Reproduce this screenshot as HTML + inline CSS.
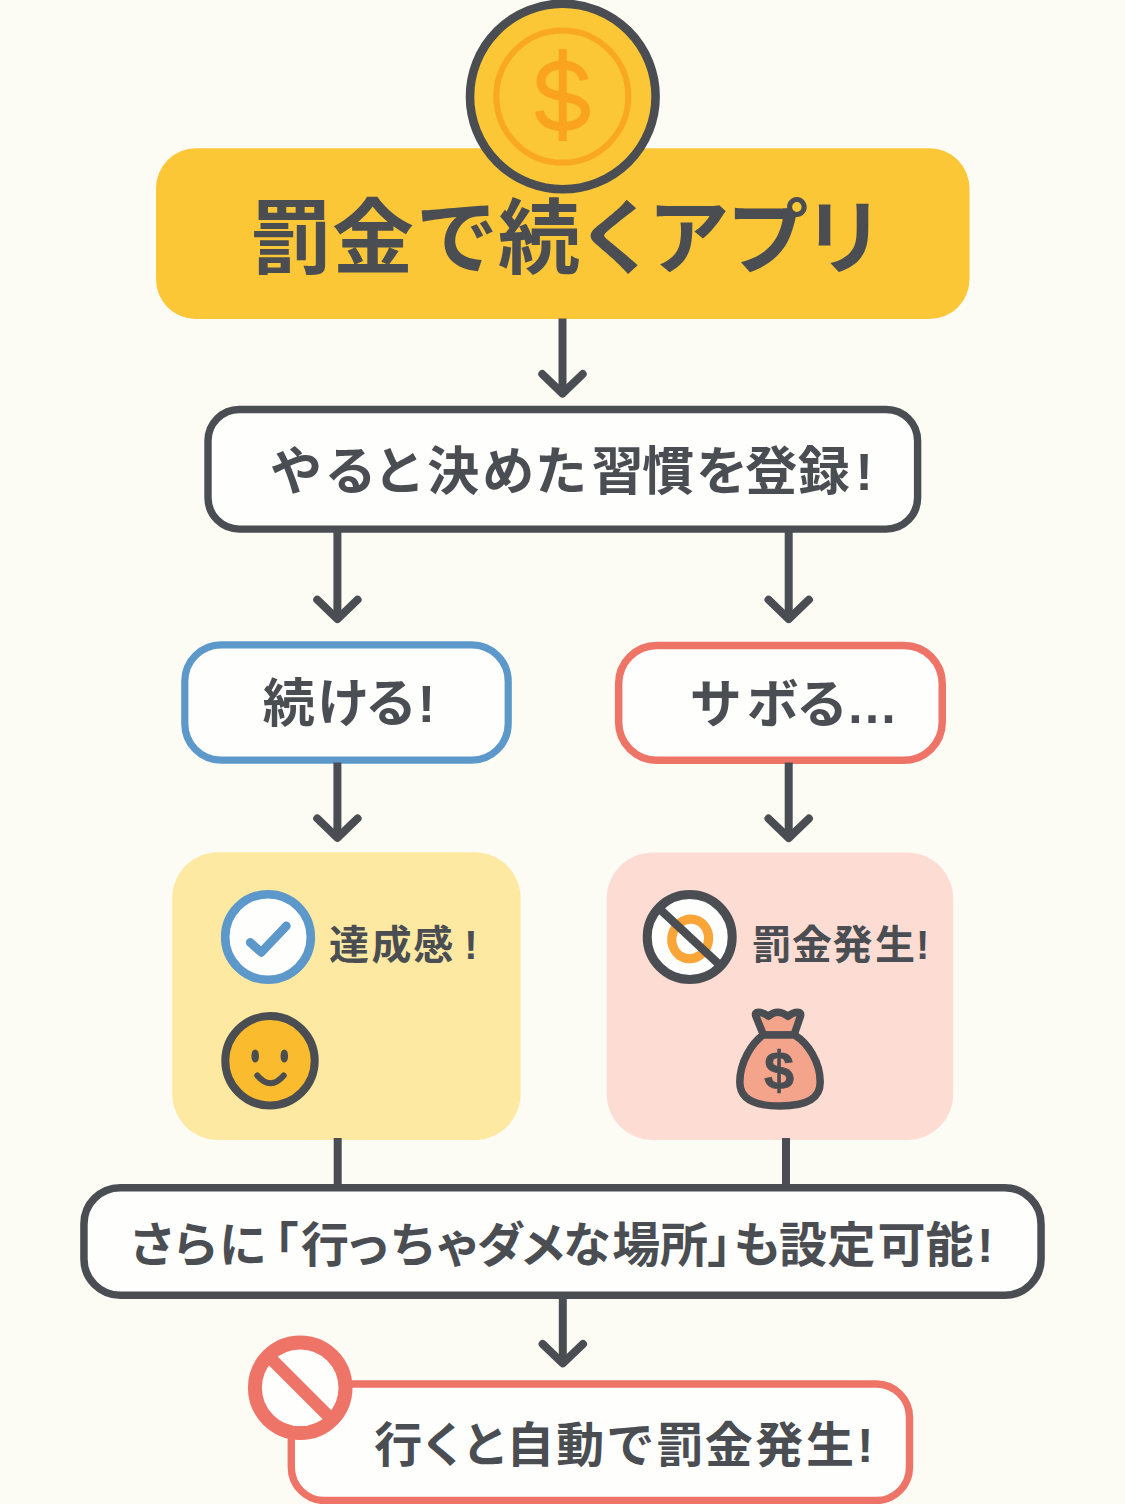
<!DOCTYPE html>
<html lang="ja"><head><meta charset="utf-8"><title>罰金で続くアプリ</title>
<style>
html,body{margin:0;padding:0}
body{width:1125px;height:1504px;position:relative;overflow:hidden;background:#fcfcf5;font-family:"Liberation Sans",sans-serif}
.b{position:absolute;box-sizing:border-box}
.b span{position:absolute;left:0;top:0;width:1px;height:1px;overflow:hidden;font-size:1px;color:transparent;opacity:0}
#banner{left:155px;top:148px;width:814px;height:171px}
#b2{left:204px;top:406px;width:717px;height:127px}
#bl{left:181px;top:641px;width:331px;height:123px}
#br{left:615px;top:642px;width:331px;height:122px}
#yl{left:172px;top:852px;width:348px;height:288px}
#pk{left:607px;top:852px;width:346px;height:288px}
#wide{left:80px;top:1184px;width:965px;height:115px}
#last{left:288px;top:1380px;width:625px;height:124px}
svg{position:absolute;left:0;top:0}
svg text{font-family:"Liberation Sans","Noto Sans CJK JP",sans-serif;font-weight:bold;fill:#4a4e53}
</style></head><body>
<div class="b" id="banner"><span>罰金で続くアプリ</span></div>
<div class="b" id="b2"><span>やると決めた習慣を登録!</span></div>
<div class="b" id="bl"><span>続ける!</span></div>
<div class="b" id="br"><span>サボる…</span></div>
<div class="b" id="yl"><span>達成感!</span></div>
<div class="b" id="pk"><span>罰金発生!</span></div>
<div class="b" id="wide"><span>さらに「行っちゃダメな場所」も設定可能!</span></div>
<div class="b" id="last"><span>行くと自動で罰金発生!</span></div>
<svg width="1125" height="1504" viewBox="0 0 1125 1504">
<rect x="156.00" y="148.20" width="813.50" height="170.90" rx="40.00" fill="#fcc737"/>
<rect x="208.00" y="409.50" width="709.60" height="119.60" rx="31.30" fill="#fefefd" stroke="#4a4e53" stroke-width="7.40"/>
<rect x="184.80" y="644.80" width="323.40" height="115.30" rx="36.40" fill="#fefefd" stroke="#5c98ca" stroke-width="7.20"/>
<rect x="618.65" y="645.45" width="323.60" height="114.80" rx="38.25" fill="#fefefd" stroke="#ee7468" stroke-width="7.50"/>
<rect x="172.20" y="852.20" width="348.40" height="287.80" rx="46.00" fill="#fde9a2"/>
<rect x="606.70" y="852.60" width="346.50" height="287.40" rx="46.00" fill="#fdddd3"/>
<rect x="83.95" y="1187.65" width="957.10" height="107.60" rx="36.25" fill="#fefefd" stroke="#4a4e53" stroke-width="7.50"/>
<rect x="291.30" y="1384.00" width="618.20" height="116.50" rx="33.30" fill="#fefefd" stroke="#ee7468" stroke-width="7.40"/>
<path d="M562.5 318.5V393.5" fill="none" stroke="#4a4e53" stroke-width="8.0"/><path d="M542.3 374.1L562.5 393.5L582.7 374.1" fill="none" stroke="#4a4e53" stroke-width="8.0" stroke-linecap="round" stroke-linejoin="round"/>
<path d="M337.4 530.0V619.1" fill="none" stroke="#4a4e53" stroke-width="8.0"/><path d="M317.2 599.7L337.4 619.1L357.6 599.7" fill="none" stroke="#4a4e53" stroke-width="8.0" stroke-linecap="round" stroke-linejoin="round"/>
<path d="M788.7 530.0V619.1" fill="none" stroke="#4a4e53" stroke-width="8.0"/><path d="M768.5 599.7L788.7 619.1L808.9 599.7" fill="none" stroke="#4a4e53" stroke-width="8.0" stroke-linecap="round" stroke-linejoin="round"/>
<path d="M337.4 762.5V837.8" fill="none" stroke="#4a4e53" stroke-width="8.0"/><path d="M317.2 818.4L337.4 837.8L357.6 818.4" fill="none" stroke="#4a4e53" stroke-width="8.0" stroke-linecap="round" stroke-linejoin="round"/>
<path d="M788.7 762.5V838.0" fill="none" stroke="#4a4e53" stroke-width="8.0"/><path d="M768.5 818.6L788.7 838.0L808.9 818.6" fill="none" stroke="#4a4e53" stroke-width="8.0" stroke-linecap="round" stroke-linejoin="round"/>
<path d="M562.8 1296.0V1363.4" fill="none" stroke="#4a4e53" stroke-width="8.0"/><path d="M542.6 1344.0L562.8 1363.4L583.0 1344.0" fill="none" stroke="#4a4e53" stroke-width="8.0" stroke-linecap="round" stroke-linejoin="round"/>
<path d="M337.7 1138V1187M786 1138V1187" stroke="#4a4e53" stroke-width="8" fill="none"/>
<g id="coin"><circle cx="562.8" cy="96.5" r="92.8" fill="#fcc737" stroke="#4a4e53" stroke-width="8.6"/>
<circle cx="562.3" cy="96.6" r="66" fill="none" stroke="#f9a822" stroke-width="6"/>
<path d="M584 80C582 70 573 65 562 65C549 65 541 72 541 81.5C541 91 549 94 562.5 96.5C577 99.5 585.5 103 585.5 111.5C585.5 121 576 126.5 562.5 126.5C549 126.5 541 121 539.5 111" fill="none" stroke="#f9a31f" stroke-width="9"/>
<path d="M562.7 49V141" stroke="#f9a31f" stroke-width="8" fill="none"/></g>
<g id="check"><circle cx="268" cy="937" r="42.8" fill="#fefefd" stroke="#5c98ca" stroke-width="8.6"/>
<path d="M250.3 942.5L261.3 952.3L286.3 926" fill="none" stroke="#5c98ca" stroke-width="8.8" stroke-linecap="round" stroke-linejoin="round"/></g>
<g id="smiley"><circle cx="270" cy="1060.8" r="44.7" fill="#fabb2e" stroke="#4a4e53" stroke-width="8"/>
<ellipse cx="255.2" cy="1056" rx="3.8" ry="6.6" fill="#4a4e53"/><ellipse cx="284.3" cy="1056" rx="3.8" ry="6.6" fill="#4a4e53"/>
<path d="M257.3 1075.5Q270.5 1091 283.7 1075.5" fill="none" stroke="#4a4e53" stroke-width="6" stroke-linecap="round"/></g>
<g id="nocoin"><circle cx="689.7" cy="937" r="42.5" fill="#fefefd" stroke="#4a4e53" stroke-width="9"/>
<ellipse cx="690.2" cy="938.9" rx="18.3" ry="19.9" fill="none" stroke="#f9a537" stroke-width="9.2" transform="rotate(14 690.2 938.9)"/>
<path d="M658.6 908L720.8 966" stroke="#4a4e53" stroke-width="8.5" fill="none"/></g>
<g id="bag" fill="#f4a48b" stroke="#4a4e53" stroke-width="7.5" stroke-linejoin="round">
<path d="M763.5 1035L755.8 1016Q754.5 1012.3 758.5 1012.3Q763 1012.3 768.5 1016.3Q773 1012.3 777.8 1012.3Q782.6 1012.3 788 1016.3Q793 1012.3 797.5 1012.3Q801.5 1012.3 800.5 1016L794 1035Z"/>
<path d="M763 1035C752 1043 739.8 1062 739.8 1082C739.8 1098 752 1106 780 1106C808 1106 820.2 1098 820.2 1082C820.2 1062 808 1043 794.5 1035Z"/></g>
<text x="764.08" y="1088.72" font-size="54" stroke="#4a4e53" stroke-width="0.65">$</text>
<g id="nogo"><circle cx="300.2" cy="1387.8" r="45.3" fill="#fefefd" stroke="#ee7468" stroke-width="14"/>
<path d="M268.2 1355.8L332.2 1419.8" stroke="#ee7468" stroke-width="12.5" fill="none"/></g>
<text y="267.41" font-size="82" x="250.24 332.04 416.10 497.94 576.12 647.51 726.17 802.72">罰金で続くアプリ</text>
<text y="489.56" font-size="52" x="270.00 324.43 373.30 427.19 482.33 535.02 591.57 641.89 695.90 745.35 797.70 855.58">やると決めた習慣を登録!</text>
<text y="722.43" font-size="52" x="262.78 317.36 364.88 417.68">続ける!</text>
<text y="722.56" font-size="52" x="689.76 746.66 795.88 846.00">サボる…</text>
<text y="958.51" font-size="40" x="329.05 371.47 413.14 464.35">達成感!</text>
<text y="958.53" font-size="40" x="751.75 791.92 832.59 875.00 915.90">罰金発生!</text>
<text y="1261.67" font-size="48" x="128.32 171.28 219.04 250.66 300.98 343.64 389.27 433.75 477.01 519.18 563.01 612.29 660.04 706.99 733.38 779.01 827.54 877.55 925.41 977.22">さらに「行っちゃダメな場所」も設定可能!</text>
<text y="1462.44" font-size="48" x="374.23 419.48 461.15 506.36 556.28 606.13 655.91 704.85 755.18 805.91 857.37">行くと自動で罰金発生!</text>
</svg>
</body></html>
